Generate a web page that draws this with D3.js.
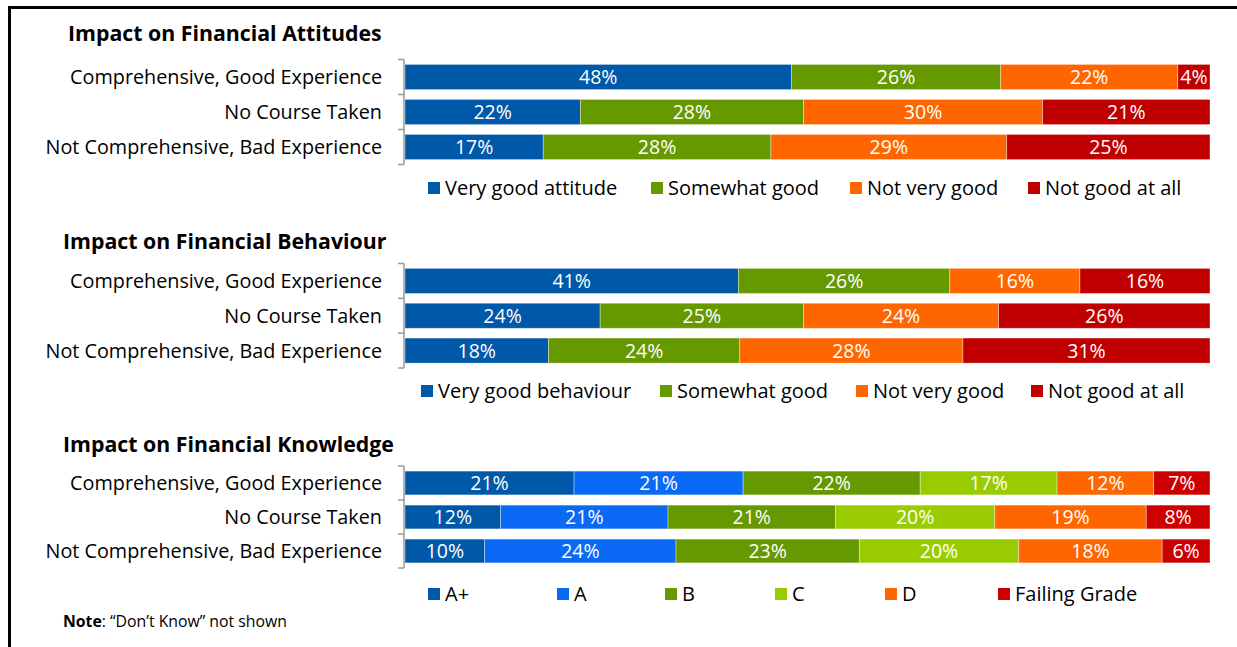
<!DOCTYPE html>
<html><head><meta charset="utf-8">
<script src="https://cdn.jsdelivr.net/npm/d3@7"></script>
<style>body{margin:0;background:#fff}svg{display:block}text{font-family:"Open Sans",sans-serif}</style>
</head><body>
<svg id="c" width="1237" height="647"></svg>
<script>
const categories = ["Comprehensive, Good Experience", "No Course Taken", "Not Comprehensive, Bad Experience"];

const attitudeKeys = ["Very good attitude", "Somewhat good", "Not very good", "Not good at all"];
const attitudeValues = [
  [48, 26, 22, 4],
  [22, 28, 30, 21],
  [17, 28, 29, 25]
];
const behaviourKeys = ["Very good behaviour", "Somewhat good", "Not very good", "Not good at all"];
const behaviourValues = [
  [41, 26, 16, 16],
  [24, 25, 24, 26],
  [18, 24, 28, 31]
];
const knowledgeKeys = ["A+", "A", "B", "C", "D", "Failing Grade"];
const knowledgeValues = [
  [21, 21, 22, 17, 12, 7],
  [12, 21, 21, 20, 19, 8],
  [10, 24, 23, 20, 18, 6]
];
const titles = ["Impact on Financial Attitudes", "Impact on Financial Behaviour", "Impact on Financial Knowledge"];

const colors4 = ["#0058A8", "#669900", "#FF6600", "#C00000"];
const colors6 = ["#0058A8", "#0A6AF5", "#669900", "#99CC00", "#FF6600", "#CC0000"];

const svg = d3.select("#c");

// frame
svg.append("line").attr("x1", 8).attr("x2", 1237).attr("y1", 7.5).attr("y2", 7.5).attr("stroke", "#000").attr("stroke-width", 3);
svg.append("line").attr("x1", 9.5).attr("x2", 9.5).attr("y1", 6).attr("y2", 647).attr("stroke", "#000").attr("stroke-width", 3);

const x = d3.scaleLinear().domain([0, 1]).range([405, 1210]);

const sections = [
  {title: titles[0], tx: 68, ty: 41, keys: attitudeKeys, values: attitudeValues, colors: colors4,
   yr: [59.5, 164.5], pad: 0.28, ly: 188, lx: [428, 651, 850, 1028]},
  {title: titles[1], tx: 63, ty: 249, keys: behaviourKeys, values: behaviourValues, colors: colors4,
   yr: [263.5, 368], pad: 0.28, ly: 391, lx: [421, 660, 856, 1031]},
  {title: titles[2], tx: 63, ty: 452, keys: knowledgeKeys, values: knowledgeValues, colors: colors6,
   yr: [466, 568], pad: 0.3, ly: 594, lx: [428, 557, 665, 775, 885, 998]}
];

sections.forEach(s => {
  const g = svg.append("g");
  g.append("text").attr("x", s.tx).attr("y", s.ty).attr("font-size", 21.3).attr("font-weight", "bold").attr("fill", "#000").text(s.title);

  const y = d3.scaleBand().domain(categories).range(s.yr).paddingInner(s.pad).paddingOuter(s.pad / 2);
  const rows = categories.map((c, i) => {
    const o = {cat: c};
    s.keys.forEach((k, j) => o[k] = s.values[i][j]);
    return o;
  });
  const stack = d3.stack().keys(s.keys).offset(d3.stackOffsetExpand)(rows);

  stack.forEach((layer, li) => {
    layer.forEach((d, ri) => {
      const x0 = x(d[0]), x1 = x(d[1]);
      const yy = y(d.data.cat);
      g.append("rect").attr("x", x0).attr("y", yy).attr("width", x1 - x0).attr("height", y.bandwidth())
        .attr("fill", s.colors[li]).attr("stroke", "#fff").attr("stroke-opacity", 0.45).attr("stroke-width", 0.8);
      g.append("text").attr("x", (x0 + x1) / 2).attr("y", yy + y.bandwidth() / 2).attr("dy", "0.36em")
        .attr("text-anchor", "middle").attr("font-size", 19.5).attr("fill", "#fff")
        .text(d.data[layer.key] + "%");
    });
  });

  // axis: vertical line with ticks at band boundaries
  const ax = x.range()[0] - 1;
  const step = y.step();
  const top = y(categories[0]) - y.paddingInner() * step / 2;
  const edges = d3.range(categories.length + 1).map(i => top + i * step);
  g.append("line").attr("x1", ax).attr("x2", ax).attr("y1", edges[0]).attr("y2", edges[edges.length - 1]).attr("stroke", "#999").attr("stroke-width", 1.5);
  edges.forEach(e => g.append("line").attr("x1", ax - 6).attr("x2", ax).attr("y1", e).attr("y2", e).attr("stroke", "#999").attr("stroke-width", 1.5));

  categories.forEach(c => {
    g.append("text").attr("x", 382).attr("y", y(c) + y.bandwidth() / 2).attr("dy", "0.36em")
      .attr("text-anchor", "end").attr("font-size", 19.8).attr("fill", "#000").text(c);
  });

  s.keys.forEach((k, i) => {
    g.append("rect").attr("x", s.lx[i]).attr("y", s.ly - 6).attr("width", 12).attr("height", 12).attr("fill", s.colors[i]);
    g.append("text").attr("x", s.lx[i] + 17).attr("y", s.ly).attr("dy", "0.36em").attr("font-size", 20).attr("fill", "#000").text(k);
  });
});

const note = svg.append("text").attr("x", 63).attr("y", 627).attr("font-size", 15.8).attr("fill", "#000");
note.append("tspan").attr("font-weight", "bold").text("Note");
note.append("tspan").text(": \u201CDon\u2019t Know\u201D not shown");
</script>
</body></html>
